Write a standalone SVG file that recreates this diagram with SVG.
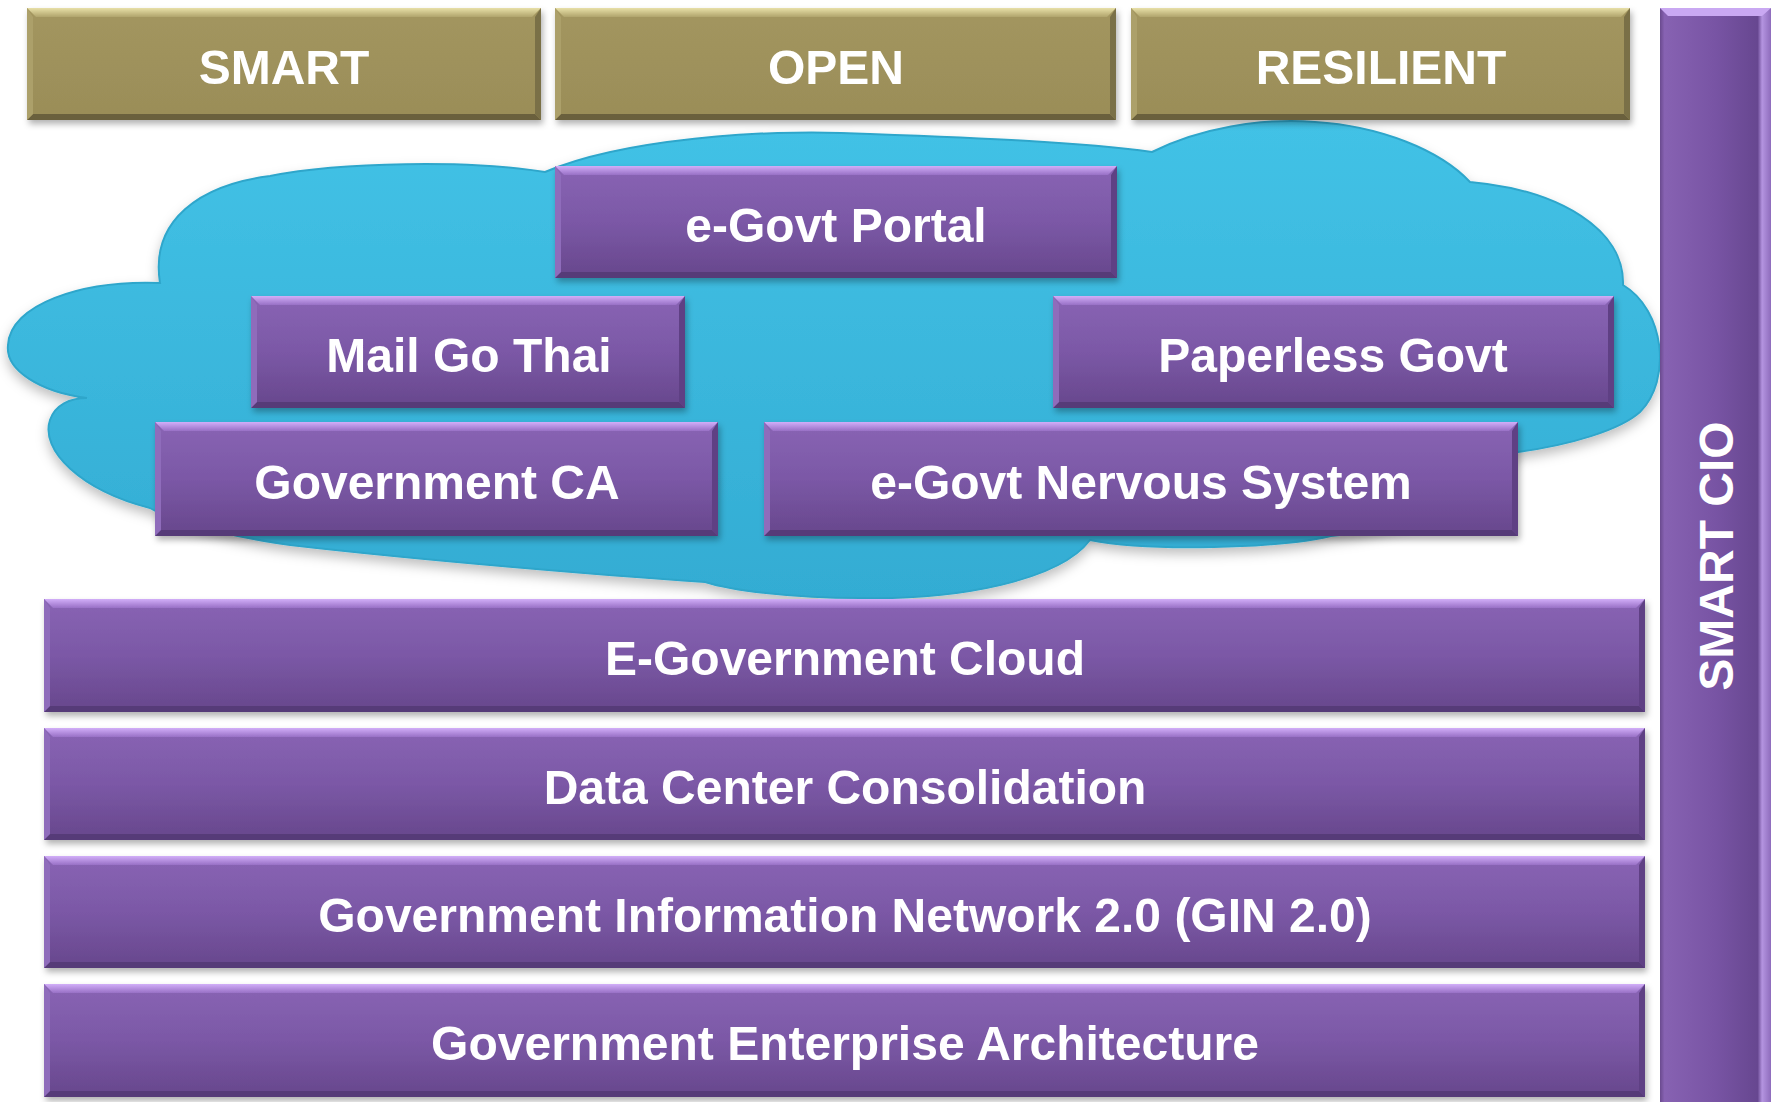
<svg xmlns="http://www.w3.org/2000/svg" width="1775" height="1102" viewBox="0 0 1775 1102">
<defs>
<linearGradient id="gP" x1="0" y1="0" x2="0" y2="1"><stop offset="0" stop-color="#8964B4"/><stop offset="0.5" stop-color="#7B58A6"/><stop offset="1" stop-color="#67478C"/></linearGradient>
<linearGradient id="gPT" x1="0" y1="0" x2="0" y2="1"><stop offset="0" stop-color="#D2AEF8"/><stop offset="1" stop-color="#9870C6"/></linearGradient>
<linearGradient id="gO" x1="0" y1="0" x2="0" y2="1"><stop offset="0" stop-color="#A3965F"/><stop offset="1" stop-color="#9A8D58"/></linearGradient>
<linearGradient id="gOT" x1="0" y1="0" x2="0" y2="1"><stop offset="0" stop-color="#E8E0A8"/><stop offset="1" stop-color="#B0A46C"/></linearGradient>
<linearGradient id="gC" x1="0" y1="0" x2="0" y2="1"><stop offset="0" stop-color="#42C2E6"/><stop offset="1" stop-color="#33ACD3"/></linearGradient>
<linearGradient id="gCIO" x1="0" y1="0" x2="1" y2="0"><stop offset="0" stop-color="#6A4A8E"/><stop offset="0.04" stop-color="#8762B2"/><stop offset="0.5" stop-color="#7854A4"/><stop offset="0.88" stop-color="#674790"/><stop offset="0.92" stop-color="#B494E0"/><stop offset="1" stop-color="#8E6CBC"/></linearGradient>
<filter id="sh" x="-5%" y="-10%" width="110%" height="130%"><feDropShadow dx="2" dy="4" stdDeviation="3" flood-color="#000" flood-opacity="0.3"/></filter>
<filter id="csh" x="-5%" y="-10%" width="110%" height="130%"><feDropShadow dx="0" dy="6" stdDeviation="6" flood-color="#000" flood-opacity="0.25"/></filter>
</defs>
<style>
.pf{fill:url(#gP)}
.pt{fill:url(#gPT)}
.pb{fill:#563A78}
.pr{fill:#5E4184}
.pl{fill:#8F6CBB}
.of{fill:url(#gO)}
.ot{fill:url(#gOT)}
.ob{fill:#6A613C}
.or{fill:#7A7046}
.ol{fill:#ACA06A}
text{font-family:"Liberation Sans",Arial,sans-serif;font-weight:bold;font-size:48px;fill:#fff;text-anchor:middle}
</style>
<rect width="1775" height="1102" fill="#fff"/>

<g id="cloud" filter="url(#csh)">
<path d="M160 283 C150 220 200 185 270 176 C340 162 470 160 545 172 C620 140 760 128 870 134 C980 138 1080 142 1152 152 C1200 128 1260 118 1315 122 C1380 126 1440 150 1470 182 C1560 190 1625 230 1623 285 C1665 310 1672 380 1640 412 C1620 430 1570 445 1518 452 C1480 500 1400 530 1331 536 C1280 548 1150 552 1090 540 C1060 580 960 600 860 598 C790 598 730 590 705 582 C600 575 420 560 290 545 C220 535 170 520 150 508 C80 490 40 450 50 420 C55 405 70 398 87 398 C40 392 5 370 8 345 C10 305 80 280 160 283 Z" fill="url(#gC)" stroke="#2FA6CB" stroke-width="2"/>
</g>

<g id="smart" filter="url(#sh)">
<rect x="27" y="8" width="514" height="112" class="of"/>
<path class="ot" d="M27 8 H541 L532 17 H36 Z"/>
<path class="ob" d="M27 120 H541 L535 114 H33 Z"/>
<path class="or" d="M541 8 V120 L535 114 V17 Z"/>
<path class="ol" d="M27 8 V120 L33 114 V17 Z"/>
<text x="284" y="84">SMART</text>
</g>
<g id="open" filter="url(#sh)">
<rect x="555" y="8" width="561" height="112" class="of"/>
<path class="ot" d="M555 8 H1116 L1107 17 H564 Z"/>
<path class="ob" d="M555 120 H1116 L1110 114 H561 Z"/>
<path class="or" d="M1116 8 V120 L1110 114 V17 Z"/>
<path class="ol" d="M555 8 V120 L561 114 V17 Z"/>
<text x="836" y="84">OPEN</text>
</g>
<g id="resilient" filter="url(#sh)">
<rect x="1131" y="8" width="499" height="112" class="of"/>
<path class="ot" d="M1131 8 H1630 L1621 17 H1140 Z"/>
<path class="ob" d="M1131 120 H1630 L1624 114 H1137 Z"/>
<path class="or" d="M1630 8 V120 L1624 114 V17 Z"/>
<path class="ol" d="M1131 8 V120 L1137 114 V17 Z"/>
<text x="1381" y="84">RESILIENT</text>
</g>

<g id="portal" filter="url(#sh)">
<rect x="555" y="166" width="562" height="112" class="pf"/>
<path class="pt" d="M555 166 H1117 L1108 175 H564 Z"/>
<path class="pb" d="M555 278 H1117 L1111 272 H561 Z"/>
<path class="pr" d="M1117 166 V278 L1111 272 V175 Z"/>
<path class="pl" d="M555 166 V278 L561 272 V175 Z"/>
<text x="836" y="242">e-Govt Portal</text>
</g>
<g id="mail" filter="url(#sh)">
<rect x="251" y="296" width="434" height="112" class="pf"/>
<path class="pt" d="M251 296 H685 L676 305 H260 Z"/>
<path class="pb" d="M251 408 H685 L679 402 H257 Z"/>
<path class="pr" d="M685 296 V408 L679 402 V305 Z"/>
<path class="pl" d="M251 296 V408 L257 402 V305 Z"/>
<text x="469" y="372">Mail Go Thai</text>
</g>
<g id="paperless" filter="url(#sh)">
<rect x="1053" y="296" width="561" height="112" class="pf"/>
<path class="pt" d="M1053 296 H1614 L1605 305 H1062 Z"/>
<path class="pb" d="M1053 408 H1614 L1608 402 H1059 Z"/>
<path class="pr" d="M1614 296 V408 L1608 402 V305 Z"/>
<path class="pl" d="M1053 296 V408 L1059 402 V305 Z"/>
<text x="1333" y="372">Paperless Govt</text>
</g>
<g id="gca" filter="url(#sh)">
<rect x="155" y="422" width="563" height="114" class="pf"/>
<path class="pt" d="M155 422 H718 L709 431 H164 Z"/>
<path class="pb" d="M155 536 H718 L712 530 H161 Z"/>
<path class="pr" d="M718 422 V536 L712 530 V431 Z"/>
<path class="pl" d="M155 422 V536 L161 530 V431 Z"/>
<text x="437" y="499">Government CA</text>
</g>
<g id="nervous" filter="url(#sh)">
<rect x="764" y="422" width="754" height="114" class="pf"/>
<path class="pt" d="M764 422 H1518 L1509 431 H773 Z"/>
<path class="pb" d="M764 536 H1518 L1512 530 H770 Z"/>
<path class="pr" d="M1518 422 V536 L1512 530 V431 Z"/>
<path class="pl" d="M764 422 V536 L770 530 V431 Z"/>
<text x="1141" y="499">e-Govt Nervous System</text>
</g>

<g id="egcloud" filter="url(#sh)">
<rect x="44" y="599" width="1601" height="113" class="pf"/>
<path class="pt" d="M44 599 H1645 L1636 608 H53 Z"/>
<path class="pb" d="M44 712 H1645 L1639 706 H50 Z"/>
<path class="pr" d="M1645 599 V712 L1639 706 V608 Z"/>
<path class="pl" d="M44 599 V712 L50 706 V608 Z"/>
<text x="845" y="675">E-Government Cloud</text>
</g>
<g id="dcc" filter="url(#sh)">
<rect x="44" y="728" width="1601" height="112" class="pf"/>
<path class="pt" d="M44 728 H1645 L1636 737 H53 Z"/>
<path class="pb" d="M44 840 H1645 L1639 834 H50 Z"/>
<path class="pr" d="M1645 728 V840 L1639 834 V737 Z"/>
<path class="pl" d="M44 728 V840 L50 834 V737 Z"/>
<text x="845" y="804">Data Center Consolidation</text>
</g>
<g id="gin" filter="url(#sh)">
<rect x="44" y="856" width="1601" height="112" class="pf"/>
<path class="pt" d="M44 856 H1645 L1636 865 H53 Z"/>
<path class="pb" d="M44 968 H1645 L1639 962 H50 Z"/>
<path class="pr" d="M1645 856 V968 L1639 962 V865 Z"/>
<path class="pl" d="M44 856 V968 L50 962 V865 Z"/>
<text x="845" y="932">Government Information Network 2.0 (GIN 2.0)</text>
</g>
<g id="gea" filter="url(#sh)">
<rect x="44" y="984" width="1601" height="113" class="pf"/>
<path class="pt" d="M44 984 H1645 L1636 993 H53 Z"/>
<path class="pb" d="M44 1097 H1645 L1639 1091 H50 Z"/>
<path class="pr" d="M1645 984 V1097 L1639 1091 V993 Z"/>
<path class="pl" d="M44 984 V1097 L50 1091 V993 Z"/>
<text x="845" y="1060">Government Enterprise Architecture</text>
</g>

<g id="smartcio">
<rect x="1660" y="8" width="111" height="1094" fill="url(#gCIO)"/>
<path fill="#C9A8F2" d="M1660 8 H1771 L1762 16 H1668 Z"/>
<text transform="translate(1716 556) rotate(-90)" x="0" y="17">SMART CIO</text>
</g>

<g id="connectors"/>
</svg>
